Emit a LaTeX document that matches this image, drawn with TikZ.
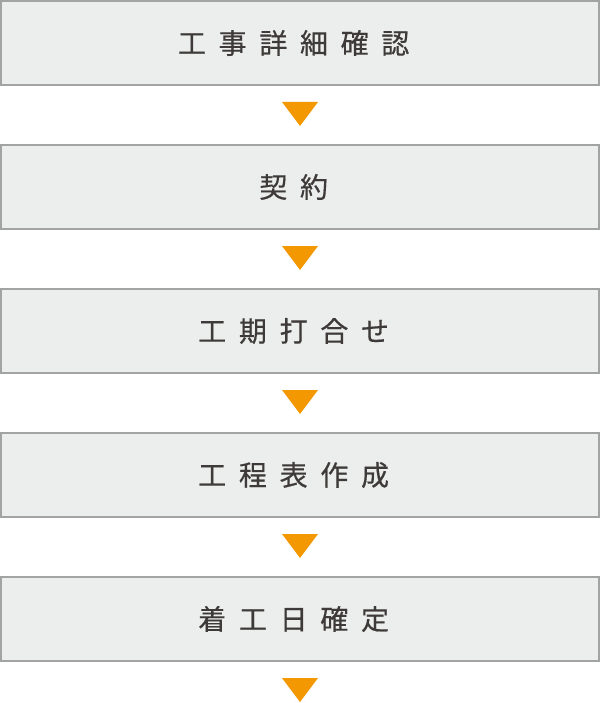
\documentclass[tikz,border=0pt]{standalone}
\usepackage{fontspec}
\usetikzlibrary{calc}
\newfontfamily\cjk[FakeBold=0.5]{Noto Sans CJK JP}
\definecolor{boxfill}{HTML}{ECEEED}
\definecolor{boxline}{HTML}{A3A3A3}
\definecolor{txt}{HTML}{3E3A39}
\definecolor{arr}{HTML}{F39800}
\newcommand{\ls}{\kern12.7pt}
\begin{document}
\begin{tikzpicture}[x=1pt,y=-1pt,
  stepbox/.style={draw=boxline, line width=2pt, fill=boxfill, minimum width=598pt, minimum height=84pt, inner sep=0pt, outer sep=0pt, anchor=north west, text=txt, font=\cjk\fontsize{28}{28}\selectfont},
  tri/.style={fill=arr, draw=none}]
\useasboundingbox (0,0) rectangle (600,703);
\node[stepbox] (b1) at (1,1) {工\ls 事\ls 詳\ls 細\ls 確\ls 認\ls\null};
\node[stepbox] (b2) at (1,145) {契\ls 約\ls\null};
\node[stepbox] (b3) at (1,289) {工\ls 期\ls 打\ls 合\ls せ\ls\null};
\node[stepbox] (b4) at (1,433) {工\ls 程\ls 表\ls 作\ls 成\ls\null};
\node[stepbox] (b5) at (1,577) {着\ls 工\ls 日\ls 確\ls 定\ls\null};
\foreach \i/\n in {0/b1,1/b2,2/b3,3/b4,4/b5}{
  \coordinate (t\i) at ($(\n.south)+(0,17)$);
  \fill[tri] ($(t\i)+(-18,0)$) -- ($(t\i)+(18,0)$) -- ($(t\i)+(0,24)$) -- cycle;
}
\end{tikzpicture}
\end{document}
